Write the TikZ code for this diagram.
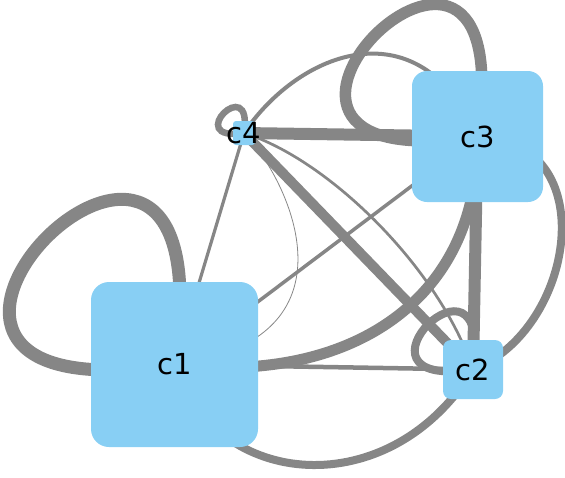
\documentclass[tikz,border=0pt]{standalone}
\usepackage{fontspec}
\setmainfont{DejaVu Sans}
\usetikzlibrary{backgrounds}
\definecolor{nodeblue}{RGB}{136,207,244}
\definecolor{edgegray}{RGB}{134,134,134}

\begin{document}
\begin{tikzpicture}[x=1pt,y=-1pt,lbl/.style={font=\fontsize{29}{33}\selectfont},
   vtx/.style n args={3}{fill=nodeblue,rounded corners=#1,minimum width=#2pt,minimum height=#3pt,inner sep=0pt,lbl},
   edg/.style={draw=edgegray,line width=#1}]
\useasboundingbox (0,0) rectangle (565,477);
\node[vtx={18pt}{167}{165}] (c1) at (174.5,364.5) {c1};
\node[vtx={15pt}{131}{131}] (c3) at (477.5,136.5) {c3};
\node[vtx={8pt}{60}{59}] (c2) at (473,369.5) {c2};
\node[vtx={3pt}{22}{24},label={[lbl]center:c4}] (c4) at (244,133) {};
\begin{pgfonlayer}{background}
\foreach \a/\b/\w in %
{c4/c3/12,c4/c2/10,c4/c1/3.2,c1/c3/3.5,c1/c2/4.5,c3/c2/12} {
   \draw[edg=\w pt] (\a.center) -- (\b.center);
}
% self loops
\foreach \n/\d/\e/\w in %
{c1/400/60/13,c3/320/48/11.5,c2/141/21/8,c4/63/9.5/6.5} {
   \draw[edg=\w pt] (\n.center) .. controls +(\e,-\d) and +(-\d,\e) .. (\n.center);
}
\draw[edg=4pt] (c4.center) .. controls (300,50) and (420,5) .. (c3.center);
\draw[edg=0.8pt] (c4.center) .. controls (290,180) and (365,340) .. (c1.center);
\draw[edg=2.7pt] (c4.center) .. controls (330,160) and (440,270) .. (c2.center);
\draw[edg=11pt] (c1.center) .. controls (350,385) and (480,300) .. (c3.center);
\draw[edg=8pt] (c1.center) .. controls (215,490) and (390,505) .. (c2.center);
\draw[edg=8pt] (c3.center) .. controls (605,140) and (575,330) .. (c2.center);
\end{pgfonlayer}
\end{tikzpicture}
\end{document}
